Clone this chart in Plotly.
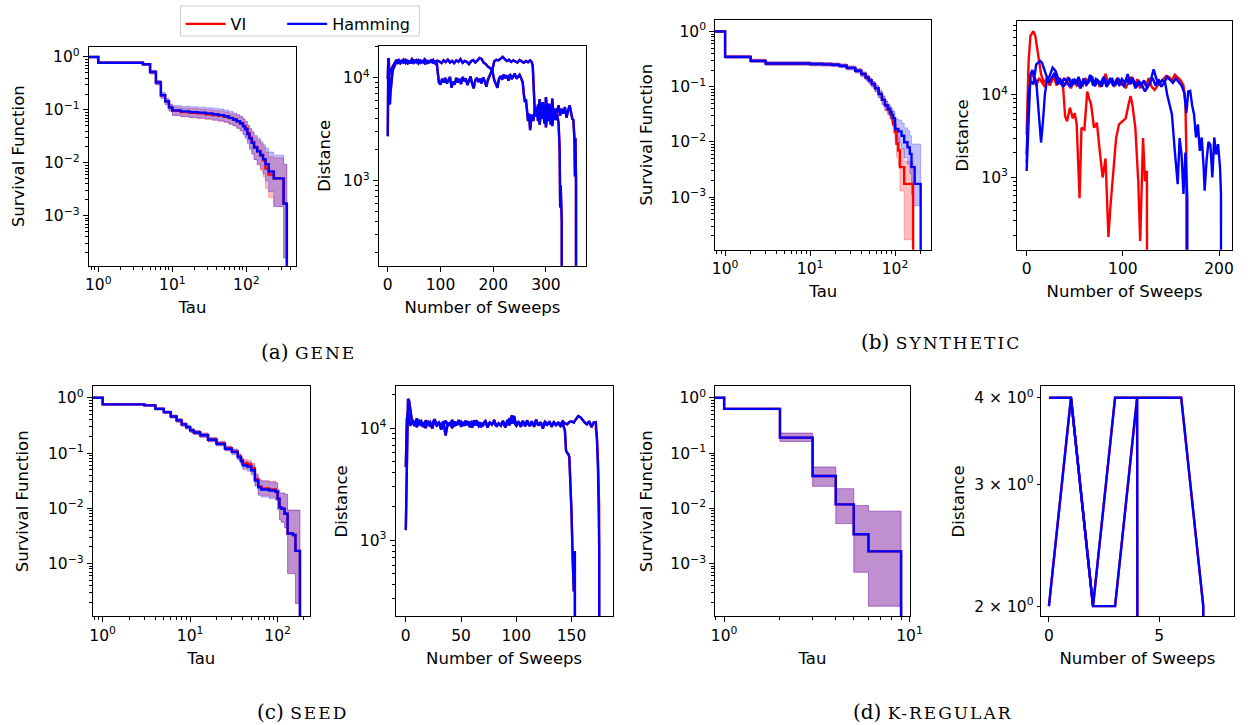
import plotly.graph_objects as go

W, H = 1256, 725
FONT = "DejaVu Sans"
RED, BLUE = "#ff0000", "#0000ff"
RED_FILL, BLUE_FILL = "rgba(255,0,0,0.25)", "rgba(0,0,255,0.25)"

# ---------------- GENE : survival ----------------
gene_tau = [0, 1, 4, 5, 6, 7, 8, 9, 10, 13, 17, 22, 28, 35, 42, 50, 58, 66, 74, 82, 90, 96, 103, 110,
            118, 127, 140, 155, 168, 181, 200, 234, 318, 352]
gene_ham_s = [1.0, 0.78, 0.73, 0.52, 0.33, 0.19, 0.145, 0.112, 0.098, 0.094, 0.091, 0.089, 0.086, 0.083, 0.080, 0.076,
              0.071, 0.066, 0.061, 0.056, 0.049, 0.043, 0.035, 0.029, 0.024, 0.0195, 0.0165, 0.0141, 0.0118, 0.0095,
              0.0069, 0.0051, 0.0017, 0.0]
gene_ham_hi = [1.0, 0.80, 0.76, 0.56, 0.36, 0.215, 0.165, 0.13, 0.122, 0.118, 0.115, 0.113, 0.110, 0.107, 0.104, 0.099,
               0.094, 0.088, 0.082, 0.076, 0.068, 0.061, 0.052, 0.045, 0.039, 0.033, 0.029, 0.025, 0.022, 0.019,
               0.016, 0.0140, 0.0095, 0.0]
gene_ham_lo = [1.0, 0.76, 0.70, 0.48, 0.30, 0.165, 0.125, 0.095, 0.079, 0.075, 0.072, 0.070, 0.068, 0.065, 0.062, 0.059,
               0.054, 0.050, 0.045, 0.040, 0.034, 0.029, 0.023, 0.018, 0.0145, 0.0115, 0.0094, 0.0078, 0.0062, 0.0046,
               0.0029, 0.0015, 0.00016, 0.0]
gene_vi_s = [1.0, 0.78, 0.73, 0.52, 0.33, 0.19, 0.145, 0.112, 0.096, 0.091, 0.088, 0.086, 0.083, 0.080, 0.078, 0.074,
             0.070, 0.066, 0.061, 0.056, 0.050, 0.045, 0.037, 0.030, 0.025, 0.020, 0.0168, 0.0138, 0.0112, 0.0078,
             0.0060, 0.0051, 0.0017, 0.0]
gene_vi_hi = [1.0, 0.80, 0.76, 0.56, 0.36, 0.21, 0.16, 0.127, 0.114, 0.109, 0.106, 0.104, 0.101, 0.098, 0.095, 0.091,
              0.087, 0.083, 0.078, 0.072, 0.066, 0.060, 0.051, 0.043, 0.037, 0.031, 0.027, 0.023, 0.020, 0.016,
              0.013, 0.0125, 0.0092, 0.0]
gene_vi_lo = [1.0, 0.76, 0.70, 0.48, 0.30, 0.17, 0.128, 0.097, 0.079, 0.074, 0.071, 0.069, 0.066, 0.063, 0.061, 0.058,
              0.054, 0.050, 0.045, 0.041, 0.035, 0.031, 0.025, 0.019, 0.015, 0.0115, 0.0092, 0.0072, 0.0055, 0.0033,
              0.0022, 0.0015, 0.00016, 0.0]

# ---------------- GENE : distance ----------------
gene_run1_sweeps = [0, 1, 2, 3, 4, 5, 7, 9, 11, 13, 15, 18, 21, 24, 27, 30, 34, 38, 42, 46, 50, 54, 58, 62, 66, 70, 74,
                    78, 82, 86, 90, 94, 98, 102, 106, 110, 114, 118, 122, 126, 130, 134, 138, 142, 146, 150, 154, 158,
                    162, 166, 170, 174, 178, 182, 186, 190, 194, 198, 202, 206, 210, 214, 218, 222, 226, 230, 234, 238,
                    242, 246, 250, 254, 258, 262, 266, 270, 273, 275, 277, 279, 282, 285, 288, 291, 294, 297, 300, 303,
                    306, 309, 312, 315, 318, 321, 324, 327, 330, 333, 336, 339, 342, 345, 348, 350, 352, 354, 355, 356,
                    357, 358]
gene_run1_dist = [9800, 15500, 15000, 9000, 5500, 7000, 9500, 11500, 12500, 13000, 14000, 15000, 13800, 14500, 14200,
                  15000, 13900, 14600, 14100, 15200, 14000, 14800, 13800, 14700, 14300, 15100, 13900, 14500, 14200,
                  14900, 13800, 14700, 14400, 13900, 14800, 14200, 15000, 14100, 14600, 13900, 14800, 14300, 15200,
                  14000, 14600, 14300, 13600, 14500, 14900, 14100, 14700, 15600, 15300, 14000, 13600, 12800, 12500,
                  11800, 14500, 15000, 14800, 15500, 16000, 15200, 14600, 15000, 14300, 14800, 14500, 14100, 14900,
                  14400, 14000, 14600, 14200, 14800, 14300, 13000, 7000, 4500, 5200, 3800, 6200, 4200, 5800, 3600,
                  6500, 4400, 5600, 3500, 6300, 4000, 5000, 4600, 5400, 4300, 5000, 4500, 5200, 4100, 4800, 5400,
                  4500, 4000, 3900, 2600, 1100, 2600, 1000, 0]
gene_run2_sweeps = [0, 1, 2, 4, 6, 8, 10, 12, 15, 18, 21, 24, 27, 30, 34, 38, 42, 46, 50, 54, 58, 62, 66, 70, 74, 78,
                    82, 86, 90, 93, 95, 97, 100, 103, 106, 109, 112, 115, 118, 121, 124, 127, 130, 133, 136, 139, 142,
                    145, 148, 151, 154, 157, 160, 163, 166, 169, 172, 175, 178, 181, 184, 187, 190, 194, 198, 202, 205,
                    208, 211, 214, 217, 220, 223, 226, 229, 232, 235, 238, 241, 244, 247, 250, 253, 256, 258, 260, 262,
                    264, 266, 268, 270, 273, 276, 279, 282, 285, 288, 291, 294, 297, 300, 303, 306, 309, 312, 315, 318,
                    321, 324, 326, 327, 328, 330, 331]
gene_run2_dist = [2700, 15500, 10500, 11500, 12000, 12500, 13000, 13500, 14500, 14000, 14800, 13900, 14600, 14100,
                  14900, 13800, 14400, 14000, 14700, 14200, 14900, 14000, 14500, 13800, 14600, 14100, 14800, 14000,
                  14400, 13800, 11000, 9000, 8600, 9800, 9000, 10000, 8800, 9500, 10200, 8000, 9200, 8600, 10000,
                  9000, 9800, 8700, 10200, 9300, 9900, 8500, 9600, 10300, 8800, 7900, 9500, 10000, 9100, 9800, 8800,
                  10100, 9300, 8200, 9600, 11000, 12000, 9500, 8500, 8000, 9800, 10400, 9600, 10800, 9900, 10600,
                  9400, 10900, 9700, 10500, 11000, 9800, 10300, 10700, 9900, 9000, 7000, 5800, 6200, 4800, 3800, 4500,
                  3100, 4400, 3800, 5000, 4200, 5500, 3500, 4800, 4000, 5200, 3300, 4600, 3800, 5100, 3400, 4700,
                  3900, 4500, 3600, 2000, 550, 900, 400, 0]

# ---------------- SYNTHETIC : survival ----------------
syn_ham_tau = [0, 1, 2, 3, 10, 14, 18, 22, 27, 34, 40, 45, 49, 53, 58, 64, 70, 76, 82, 87, 91, 95, 100, 109, 119, 128,
               140, 149, 156, 170, 200]
syn_ham_s = [1.0, 0.348, 0.295, 0.264, 0.258, 0.255, 0.25, 0.24, 0.22, 0.195, 0.17, 0.147, 0.13, 0.112, 0.094, 0.074,
             0.058, 0.046, 0.040, 0.035, 0.031, 0.027, 0.0172, 0.0156, 0.013, 0.0099, 0.008, 0.0061, 0.0035, 0.00174,
             0.0]
syn_ham_hi = [1.0, 0.37, 0.315, 0.283, 0.277, 0.274, 0.269, 0.259, 0.238, 0.212, 0.186, 0.162, 0.144, 0.125, 0.106,
              0.085, 0.068, 0.055, 0.049, 0.044, 0.040, 0.036, 0.026, 0.025, 0.022, 0.018, 0.016, 0.013, 0.0092,
              0.0092, 0.0]
syn_ham_lo = [1.0, 0.327, 0.276, 0.246, 0.240, 0.237, 0.232, 0.222, 0.202, 0.178, 0.154, 0.132, 0.116, 0.099, 0.082,
              0.063, 0.048, 0.037, 0.032, 0.027, 0.023, 0.019, 0.011, 0.0096, 0.0076, 0.0052, 0.0040, 0.0027, 0.0011,
              0.0007, 0.0]
syn_vi_tau = [0, 1, 2, 3, 10, 14, 18, 22, 27, 34, 40, 45, 49, 53, 58, 64, 70, 76, 82, 87, 91, 95, 100, 104, 109, 114,
              128, 163]
syn_vi_s = [1.0, 0.348, 0.295, 0.264, 0.258, 0.255, 0.25, 0.24, 0.22, 0.195, 0.17, 0.147, 0.13, 0.112, 0.094, 0.074,
            0.058, 0.046, 0.038, 0.032, 0.027, 0.021, 0.015, 0.0093, 0.007, 0.0035, 0.00174, 0.0]
syn_vi_hi = [1.0, 0.37, 0.315, 0.283, 0.277, 0.274, 0.269, 0.259, 0.238, 0.212, 0.186, 0.162, 0.144, 0.125, 0.106,
             0.085, 0.068, 0.055, 0.046, 0.040, 0.034, 0.028, 0.021, 0.015, 0.012, 0.0075, 0.0045, 0.0]
syn_vi_lo = [1.0, 0.327, 0.276, 0.246, 0.240, 0.237, 0.232, 0.222, 0.202, 0.178, 0.154, 0.132, 0.116, 0.099, 0.082,
             0.063, 0.048, 0.037, 0.031, 0.026, 0.021, 0.015, 0.0095, 0.0053, 0.0037, 0.0013, 0.00017, 0.0]

# ---------------- SYNTHETIC : distance ----------------
syn_vi_run1_sweeps = [0, 2, 4, 7, 9, 12, 15, 18, 21, 24, 27, 30, 33, 36, 38, 40, 42, 45, 48, 50, 52, 55, 57, 60, 63,
                      65, 67, 70, 73, 76, 79, 82, 85, 87, 90, 93, 96, 100, 103, 106, 108, 110, 113, 116, 118, 121, 123,
                      125, 127, 128]
syn_vi_run1_dist = [3300, 25000, 52000, 59000, 52000, 31000, 17800, 14000, 16000, 13000, 15500, 17000, 13500, 15000,
                    12000, 5500, 4800, 7000, 5200, 6000, 4500, 560, 4000, 3800, 11000, 9000, 7700, 4000, 4600, 2100,
                    1000, 1700, 190, 430, 1300, 3000, 4400, 4800, 5200, 7700, 9700, 7500, 4000, 900, 170, 3000, 900,
                    1200, 170, 0]
syn_vi_run2_sweeps = [0, 2, 4, 6, 8, 10, 13, 16, 19, 22, 25, 28, 31, 34, 37, 40, 43, 46, 49, 52, 55, 58, 61, 64, 67,
                      70, 73, 76, 79, 82, 85, 88, 91, 94, 97, 100, 103, 106, 109, 112, 115, 118, 121, 124, 127, 130,
                      133, 136, 139, 142, 145, 148, 151, 154, 157, 160, 163, 165, 166, 167]
syn_vi_run2_dist = [1500, 8000, 17000, 19000, 15000, 13000, 16000, 14000, 12500, 15500, 14000, 17500, 13000, 16000,
                    14500, 13000, 16500, 12000, 14500, 13000, 15000, 12500, 16000, 14000, 17000, 13000, 15500, 12500,
                    14500, 18000, 13500, 15000, 12500, 16000, 13000, 15000, 12000, 14500, 16500, 13000, 15500, 12000,
                    14500, 13000, 16000, 12500, 11500, 13000, 14500, 15500, 17000, 16500, 15000, 17500, 16000, 15000,
                    13000, 8000, 2000, 0]
syn_ham_run1_sweeps = [0, 2, 4, 6, 8, 10, 12, 13, 15, 17, 19, 21, 24, 27, 30, 33, 36, 39, 42, 45, 48, 51, 54, 57, 60,
                       63, 66, 69, 72, 75, 78, 81, 84, 87, 90, 93, 96, 99, 102, 105, 108, 111, 114, 117, 120, 123, 126,
                       129, 132, 135, 138, 141, 144, 146, 148, 151, 154, 157, 159, 161, 163, 165, 167, 169]
syn_ham_run1_dist = [1200, 6400, 17800, 20000, 16200, 14700, 7700, 4800, 2650, 4800, 10200, 14700, 17000, 21400,
                     19500, 15500, 13400, 16000, 14000, 12500, 15500, 13500, 16500, 12800, 15000, 13800, 17500, 13000,
                     15500, 14000, 12600, 15800, 13500, 16000, 12900, 14800, 13200, 15600, 14000, 17800, 13600, 15000,
                     12400, 14500, 13000, 11000, 12500, 15000, 20400, 15500, 13500, 15000, 14000, 10200, 8000, 5800,
                     2100, 830, 3000, 1900, 630, 2000, 573, 0]
syn_ham_run2_sweeps = [0, 2, 4, 7, 10, 14, 16, 18, 20, 23, 26, 29, 32, 35, 38, 41, 44, 47, 50, 53, 56, 59, 62, 65, 68,
                       71, 74, 77, 80, 83, 86, 89, 92, 95, 98, 101, 104, 107, 110, 113, 116, 119, 122, 125, 128, 131,
                       134, 137, 140, 143, 146, 149, 152, 155, 158, 161, 164, 166, 168, 170, 172, 174, 176, 178, 180,
                       182, 184, 185, 187, 189, 191, 193, 195, 197, 199, 201, 202, 203]
syn_ham_run2_dist = [1900, 10200, 14700, 13500, 23500, 25800, 24500, 21400, 17800, 14100, 16500, 18500, 13500, 15000,
                     12500, 14500, 16200, 13000, 15200, 14000, 12000, 15800, 13200, 14600, 16800, 12700, 15000, 13800,
                     16500, 12500, 14200, 15500, 13000, 16000, 14000, 12800, 15400, 13500, 16200, 12000, 14500, 13000,
                     15000, 12200, 14000, 16000, 13000, 15500, 12500, 14000, 16500, 15000, 14000, 15800, 14500, 13000,
                     10500, 6000, 11000, 11200, 7500, 5800, 3050, 4400, 2100, 3050, 1320, 690, 1600, 2700, 2500, 1000,
                     3050, 1900, 2530, 1320, 630, 0]

# ---------------- SEED : survival ----------------
seed_tau = [0, 1, 3, 4, 5, 6, 7, 8, 9, 10, 11, 13, 16, 20, 25, 30, 35, 38, 40, 45, 50, 55, 60, 65, 80, 95, 100, 105,
            110, 120, 130, 150, 160, 180]
seed_ham_s = [1.0, 0.76, 0.73, 0.63, 0.55, 0.46, 0.39, 0.33, 0.295, 0.257, 0.235, 0.21, 0.174, 0.147, 0.12, 0.105,
              0.085, 0.072, 0.060, 0.057, 0.049, 0.032, 0.024, 0.022, 0.021, 0.020, 0.015, 0.0105, 0.0099, 0.008,
              0.0035, 0.0033, 0.0017, 0.0]
seed_ham_hi = [1.0, 0.78, 0.75, 0.66, 0.58, 0.49, 0.42, 0.355, 0.318, 0.277, 0.254, 0.228, 0.189, 0.160, 0.131, 0.116,
               0.095, 0.082, 0.072, 0.069, 0.060, 0.040, 0.032, 0.031, 0.030, 0.029, 0.021, 0.019, 0.019, 0.018,
               0.0093, 0.0093, 0.0093, 0.0]
seed_ham_lo = [1.0, 0.74, 0.71, 0.60, 0.52, 0.43, 0.36, 0.305, 0.272, 0.237, 0.216, 0.192, 0.159, 0.134, 0.109, 0.094,
               0.075, 0.062, 0.050, 0.047, 0.040, 0.025, 0.017, 0.016, 0.015, 0.014, 0.0095, 0.0062, 0.0056, 0.0045,
               0.00066, 0.00066, 0.00019, 0.0]
seed_vi_s = [1.0, 0.76, 0.73, 0.63, 0.55, 0.46, 0.39, 0.33, 0.295, 0.257, 0.237, 0.213, 0.177, 0.150, 0.123, 0.107,
             0.087, 0.075, 0.065, 0.062, 0.053, 0.034, 0.025, 0.023, 0.022, 0.020, 0.015, 0.0105, 0.0099, 0.008,
             0.0035, 0.0033, 0.0017, 0.0]
seed_vi_hi = [1.0, 0.78, 0.75, 0.66, 0.58, 0.49, 0.42, 0.355, 0.318, 0.280, 0.258, 0.232, 0.193, 0.164, 0.135, 0.119,
              0.098, 0.086, 0.077, 0.074, 0.065, 0.043, 0.034, 0.032, 0.031, 0.029, 0.022, 0.019, 0.019, 0.018,
              0.0093, 0.0093, 0.0093, 0.0]
seed_vi_lo = [1.0, 0.74, 0.71, 0.60, 0.52, 0.43, 0.36, 0.305, 0.272, 0.236, 0.217, 0.194, 0.161, 0.136, 0.111, 0.096,
              0.077, 0.065, 0.054, 0.051, 0.043, 0.026, 0.018, 0.017, 0.016, 0.014, 0.0095, 0.0062, 0.0056, 0.0045,
              0.00066, 0.00066, 0.00019, 0.0]

# ---------------- SEED : distance ----------------
seed_run1_sweeps = [0, 1, 2, 3, 4, 5, 6, 8, 10, 12, 14, 16, 18, 20, 22, 24, 26, 28, 30, 32, 34, 36, 38, 40, 42, 44, 46,
                    48, 50, 52, 54, 56, 58, 60, 62, 64, 66, 68, 70, 72, 74, 76, 78, 80, 82, 84, 86, 88, 90, 92, 94, 96,
                    98, 100, 102, 104, 106, 108, 110, 112, 114, 116, 118, 120, 122, 124, 126, 128, 130, 132, 134, 136,
                    138, 140, 142, 144, 145, 146, 147, 148, 149, 150, 151, 152, 153, 154, 155]
seed_run1_dist = [1230, 9000, 18200, 17500, 14500, 12500, 10800, 11500, 10200, 11800, 10500, 11200, 10000, 11600,
                  10300, 11000, 12000, 10400, 11300, 9700, 10800, 11600, 10500, 11200, 10000, 11400, 10600, 11800,
                  10300, 11100, 10700, 11500, 10200, 11300, 10800, 11700, 10400, 11000, 10600, 11500, 10100, 11200,
                  10700, 11800, 10300, 11000, 10500, 11600, 10200, 11300, 12200, 11000, 12800, 10600, 11400, 10300,
                  11200, 10800, 11700, 10400, 11100, 10600, 11900, 10500, 11300, 9900, 11000, 10700, 11500, 10300,
                  11200, 10600, 11100, 10400, 10900, 9500, 6300, 6000, 5900, 5500, 3500, 1730, 700, 350, 800, 270, 0]
seed_run2_sweeps = [0, 1, 2, 3, 4, 6, 8, 10, 12, 14, 16, 18, 20, 22, 24, 26, 28, 30, 32, 34, 36, 38, 40, 42, 44, 46,
                    48, 50, 52, 54, 56, 58, 60, 62, 64, 66, 68, 70, 72, 74, 76, 78, 80, 82, 84, 86, 88, 90, 92, 94, 96,
                    98, 100, 102, 104, 106, 108, 110, 112, 114, 116, 118, 120, 122, 124, 126, 128, 130, 132, 134, 136,
                    138, 140, 142, 144, 146, 148, 150, 152, 154, 156, 158, 160, 162, 164, 166, 168, 170, 172, 173, 174,
                    175, 176]
seed_run2_dist = [4500, 12000, 14000, 11500, 10500, 11800, 10400, 12200, 10900, 11500, 10200, 11700, 10800, 11300,
                  9900, 11900, 10600, 11200, 10300, 11500, 8600, 11000, 10700, 11800, 10400, 11100, 10900, 11400,
                  10500, 11600, 10800, 11200, 10100, 11700, 10600, 11300, 10200, 11000, 11600, 10500, 11200, 10900,
                  11500, 10300, 11000, 10700, 11400, 10200, 11800, 10600, 13000, 11200, 10500, 11300, 10800, 11600,
                  10400, 11100, 10700, 11500, 10300, 11200, 10800, 11000, 10600, 11400, 10900, 11100, 10500, 11300,
                  10700, 11200, 10800, 11500, 11000, 10800, 11300, 11500, 11200, 12000, 12800, 12500, 11800, 11200,
                  10800, 11500, 10200, 11200, 11300, 8000, 4000, 870, 0]
seed_run2_vi_tail_sweeps = [172, 173, 174, 175, 176, 177]
seed_run2_vi_tail_dist = [9800, 8000, 5000, 2000, 560, 0]

# ---------------- K-REGULAR ----------------
kreg_tau = [0, 1, 2, 3, 4, 5, 6, 9]
kreg_s = [1.0, 0.63, 0.19, 0.0384, 0.0118, 0.0034, 0.00167, 0.0]
kreg_hi = [1.0, 0.65, 0.23, 0.056, 0.0227, 0.0113, 0.0089, 0.0]
kreg_lo = [1.0, 0.61, 0.162, 0.025, 0.0053, 0.0007, 0.00017, 0.0]
kreg_sweeps = [0, 1, 2, 3, 4, 5, 6, 7, 8]
kreg_run1_dist = [4, 4, 2, 4, 4, 4, 4, 2, 0]
kreg_run2_dist = [2, 4, 2, 2, 4, 0, 0, 0, 0]

# =====================================================
TINY = 1e-30  # stand-in for zero on log axes (clipped like matplotlib)


def pos(v):
    return [x if x > 0 else TINY for x in v]


fig = go.Figure()
shown = set()
LEGEND_OF = {"VI": "legend", "Hamming": "legend2"}


def ax(k):
    return ("x" if k == 1 else "x%d" % k), ("y" if k == 1 else "y%d" % k)


def add_band(k, tau, lo, hi, fill):
    xa, ya = ax(k)
    fig.add_trace(go.Scatter(x=pos(tau), y=pos(lo), mode="lines", xaxis=xa, yaxis=ya,
                             line=dict(color=fill, width=1, shape="hv"), showlegend=False, hoverinfo="skip"))
    fig.add_trace(go.Scatter(x=pos(tau), y=pos(hi), mode="lines", xaxis=xa, yaxis=ya, fill="tonexty",
                             fillcolor=fill, line=dict(color=fill, width=1, shape="hv"), showlegend=False,
                             hoverinfo="skip"))


def add_line(k, x, y, color, name, step=False):
    xa, ya = ax(k)
    show = name not in shown
    shown.add(name)
    fig.add_trace(go.Scatter(x=pos(x) if step else x, y=pos(y), mode="lines", xaxis=xa, yaxis=ya,
                             name=name, legendgroup=name, showlegend=show, legend=LEGEND_OF[name],
                             line=dict(color=color, width=2.4, shape="hv" if step else "linear")))


# (a) GENE
add_band(1, gene_tau, gene_vi_lo, gene_vi_hi, RED_FILL)
add_band(1, gene_tau, gene_ham_lo, gene_ham_hi, BLUE_FILL)
add_line(1, gene_tau, gene_vi_s, RED, "VI", step=True)
add_line(1, gene_tau, gene_ham_s, BLUE, "Hamming", step=True)
add_line(2, gene_run1_sweeps, gene_run1_dist, RED, "VI")
add_line(2, gene_run2_sweeps, gene_run2_dist, RED, "VI")
add_line(2, gene_run1_sweeps, gene_run1_dist, BLUE, "Hamming")
add_line(2, gene_run2_sweeps, gene_run2_dist, BLUE, "Hamming")

# (b) SYNTHETIC
add_band(3, syn_vi_tau, syn_vi_lo, syn_vi_hi, RED_FILL)
add_band(3, syn_ham_tau, syn_ham_lo, syn_ham_hi, BLUE_FILL)
add_line(3, syn_vi_tau, syn_vi_s, RED, "VI", step=True)
add_line(3, syn_ham_tau, syn_ham_s, BLUE, "Hamming", step=True)
add_line(4, syn_vi_run1_sweeps, syn_vi_run1_dist, RED, "VI")
add_line(4, syn_vi_run2_sweeps, syn_vi_run2_dist, RED, "VI")
add_line(4, syn_ham_run1_sweeps, syn_ham_run1_dist, BLUE, "Hamming")
add_line(4, syn_ham_run2_sweeps, syn_ham_run2_dist, BLUE, "Hamming")

# (c) SEED
add_band(5, seed_tau, seed_vi_lo, seed_vi_hi, RED_FILL)
add_band(5, seed_tau, seed_ham_lo, seed_ham_hi, BLUE_FILL)
add_line(5, seed_tau, seed_vi_s, RED, "VI", step=True)
add_line(5, seed_tau, seed_ham_s, BLUE, "Hamming", step=True)
add_line(6, seed_run1_sweeps, seed_run1_dist, RED, "VI")
add_line(6, seed_run2_sweeps[:-4] + seed_run2_vi_tail_sweeps, seed_run2_dist[:-4] + seed_run2_vi_tail_dist, RED, "VI")
add_line(6, seed_run1_sweeps, seed_run1_dist, BLUE, "Hamming")
add_line(6, seed_run2_sweeps, seed_run2_dist, BLUE, "Hamming")

# (d) K-REGULAR
add_band(7, kreg_tau, kreg_lo, kreg_hi, RED_FILL)
add_band(7, kreg_tau, kreg_lo, kreg_hi, BLUE_FILL)
add_line(7, kreg_tau, kreg_s, RED, "VI", step=True)
add_line(7, kreg_tau, kreg_s, BLUE, "Hamming", step=True)
add_line(8, kreg_sweeps, kreg_run1_dist, RED, "VI")
add_line(8, kreg_sweeps, kreg_run2_dist, RED, "VI")
add_line(8, kreg_sweeps, kreg_run1_dist, BLUE, "Hamming")
add_line(8, kreg_sweeps, kreg_run2_dist, BLUE, "Hamming")


# ---------------- axes ----------------
def sup(e):
    return "10<sup>%s</sup>" % str(e).replace("-", "\u2212")


def minor_log(e0, e1):
    return [m * 10 ** e for e in range(e0, e1 + 1) for m in range(2, 10)]


TICKFONT = dict(family=FONT, size=15.5, color="black")
TITLEFONT = dict(family=FONT, size=16.5, color="black")

# pixel boxes (left, top, right, bottom)
panels = [
    dict(box=(86, 46, 296, 265), xlog=True, xr=[-0.128, 2.67], xt=[0, 1, 2], ylog=True, yr=[-3.94, 0.19],
         yt=[0, -1, -2, -3], xtitle="Tau", ytitle="Survival Function", ystand=15),
    dict(box=(380, 45, 590, 265), xlog=False, xr=[-16.9, 376], xt=[0, 100, 200, 300], ylog=True, yr=[2.175, 4.31],
         yt=[3, 4], xtitle="Number of Sweeps", ytitle="Distance", ystand=8),
    dict(box=(721, 19, 940, 249), xlog=True, xr=[-0.116, 2.426], xt=[0, 1, 2], ylog=True, yr=[-3.95, 0.21],
         yt=[0, -1, -2, -3], xtitle="Tau", ytitle="Survival Function", ystand=13),
    dict(box=(1027, 20, 1245, 249), xlog=False, xr=[-9.9, 213.6], xt=[0, 100, 200], ylog=True, yr=[2.126, 4.895],
         yt=[3, 4], xtitle="Number of Sweeps", ytitle="Distance", ystand=8),
    dict(box=(90, 386, 310, 616), xlog=True, xr=[-0.113, 2.368], xt=[0, 1, 2], ylog=True, yr=[-3.95, 0.205],
         yt=[0, -1, -2, -3], xtitle="Tau", ytitle="Survival Function", ystand=15),
    dict(box=(397, 386, 617, 616), xlog=False, xr=[-9.2, 187.2], xt=[0, 50, 100, 150], ylog=True, yr=[2.323, 4.371],
         yt=[3, 4], xtitle="Number of Sweeps", ytitle="Distance", ystand=8),
    dict(box=(721, 386, 918, 616), xlog=True, xr=[-0.048, 1.0], xt=[0, 1], ylog=True, yr=[-3.95, 0.205],
         yt=[0, -1, -2, -3], xtitle="Tau", ytitle="Survival Function", ystand=13),
    dict(box=(1051, 386, 1247, 616), xlog=False, xr=[-0.37, 8.4], xt=[0, 5], ylog=True, yr=[0.2866, 0.6183],
         yt=None, xtitle="Number of Sweeps", ytitle="Distance", ystand=5),
]

common = dict(showline=True, linecolor="black", linewidth=1.1, mirror=True, ticks="outside", ticklen=5,
              tickwidth=1.1, tickcolor="black", showgrid=False, zeroline=False, tickfont=TICKFONT)

for i, p in enumerate(panels, start=1):
    l, t, r, b = p["box"]
    xa = dict(common, domain=[l / W, r / W], range=p["xr"], anchor="y" if i == 1 else "y%d" % i,
              title=dict(text=p["xtitle"], font=TITLEFONT, standoff=8))
    if p["xlog"]:
        xa.update(type="log", tickmode="array", tickvals=[10 ** e for e in p["xt"]],
                  ticktext=[sup(e) for e in p["xt"]],
                  minor=dict(tickmode="array", tickvals=minor_log(-1, 2), ticks="outside", ticklen=3,
                             tickwidth=0.9, tickcolor="black"))
    else:
        xa.update(type="linear", tickmode="array", tickvals=p["xt"], ticktext=[str(v) for v in p["xt"]])
    ya = dict(common, domain=[1 - b / H, 1 - t / H], range=p["yr"], type="log",
              anchor="x" if i == 1 else "x%d" % i,
              title=dict(text=p["ytitle"], font=TITLEFONT, standoff=p["ystand"]))
    if p["yt"] is not None:
        ya.update(tickmode="array", tickvals=[10 ** e for e in p["yt"]], ticktext=[sup(e) for e in p["yt"]],
                  minor=dict(tickmode="array", tickvals=minor_log(-5, 4), ticks="outside", ticklen=3,
                             tickwidth=0.9, tickcolor="black"))
    else:
        ya.update(tickmode="array", tickvals=[2, 3, 4],
                  ticktext=["%d \u00d7 10<sup>0</sup>" % v for v in [2, 3, 4]], ticklen=3)
    fig.layout["xaxis" if i == 1 else "xaxis%d" % i] = xa
    fig.layout["yaxis" if i == 1 else "yaxis%d" % i] = ya

SC = '<span style="font-size:17px;letter-spacing:2px">%s</span>'
captions = [("(a) " + SC % "GENE", 309, 351), ("(b) " + SC % "SYNTHETIC", 950, 341),
            ("(c) " + SC % "SEED", 303, 712), ("(d) " + SC % "K-REGULAR", 941, 712)]
for text, cx, cy in captions:
    fig.add_annotation(text=text, xref="paper", yref="paper", x=cx / W, y=1 - cy / H, showarrow=False,
                       xanchor="center", yanchor="middle",
                       font=dict(family="DejaVu Serif", size=20, color="black"))

# legend frame (the two entries sit in one box, as in the reference)
fig.add_shape(type="rect", xref="paper", yref="paper", x0=179 / W, x1=421 / W, y0=1 - 35 / H, y1=1 - 5 / H,
              line=dict(color="#cccccc", width=1), fillcolor="white", layer="below")

LEG = dict(orientation="h", yanchor="top", y=1 - 6 / H, xanchor="left", bgcolor="rgba(0,0,0,0)", borderwidth=0,
           font=dict(family=FONT, size=16, color="black"), itemwidth=40)
fig.update_layout(
    width=W, height=H, margin=dict(l=0, r=0, t=0, b=0), paper_bgcolor="white", plot_bgcolor="white",
    hovermode=False,
    legend=dict(LEG, x=179 / W),
    legend2=dict(LEG, x=282 / W),
)

fig.write_html("out.html")
